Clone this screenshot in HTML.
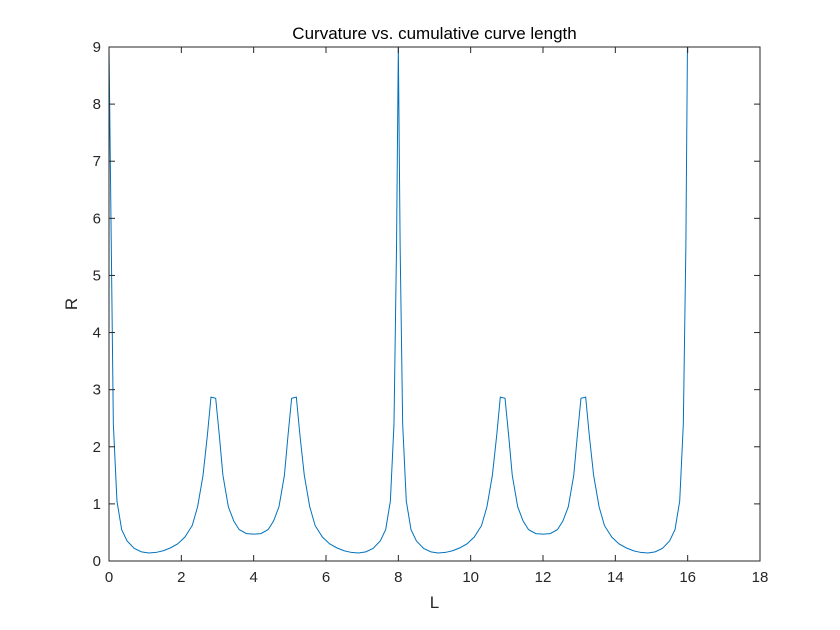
<!DOCTYPE html>
<html><head><meta charset="utf-8"><style>
body{margin:0;background:#fff;}
svg{display:block;font-family:"Liberation Sans",Arial,sans-serif;}
</style></head><body>
<svg id="chart" width="840" height="630">
<rect x="0" y="0" width="840" height="630" fill="#fff"/>
</svg>
<script>
const xTicks=[0,2,4,6,8,10,12,14,16,18];
const yTicks=[0,1,2,3,4,5,6,7,8,9];
const Lvals=[0,0.12,0.22,0.35,0.5,0.7,0.9,1.1,1.3,1.5,1.7,1.9,2.1,2.3,2.45,2.6,2.72,2.82,2.95,3.05,3.15,3.3,3.45,3.6,3.8,4.0,
4.2,4.4,4.55,4.7,4.85,4.95,5.05,5.18,5.28,5.4,5.55,5.7,5.9,6.1,6.3,6.5,6.7,6.9,7.1,7.3,7.5,7.65,7.78,7.88,7.95,8.0,
8.05,8.12,8.22,8.35,8.5,8.7,8.9,9.1,9.3,9.5,9.7,9.9,10.1,10.3,10.45,10.6,10.72,10.82,10.95,11.05,11.15,11.3,11.45,11.6,11.8,12.0,
12.2,12.4,12.55,12.7,12.85,12.95,13.05,13.18,13.28,13.4,13.55,13.7,13.9,14.1,14.3,14.5,14.7,14.9,15.1,15.3,15.5,15.65,15.78,15.88,15.95,16.0];
const Rvals=[9,2.4,1.05,0.55,0.35,0.22,0.16,0.14,0.15,0.18,0.23,0.3,0.42,0.62,0.95,1.5,2.2,2.87,2.85,2.2,1.5,0.95,0.7,0.55,0.48,0.47,
0.48,0.55,0.7,0.95,1.5,2.2,2.85,2.87,2.2,1.5,0.95,0.62,0.42,0.3,0.23,0.18,0.15,0.14,0.16,0.22,0.35,0.55,1.05,2.4,5.5,9,
5.5,2.4,1.05,0.55,0.35,0.22,0.16,0.14,0.15,0.18,0.23,0.3,0.42,0.62,0.95,1.5,2.2,2.87,2.85,2.2,1.5,0.95,0.7,0.55,0.48,0.47,
0.48,0.55,0.7,0.95,1.5,2.2,2.85,2.87,2.2,1.5,0.95,0.62,0.42,0.3,0.23,0.18,0.15,0.14,0.16,0.22,0.35,0.55,1.05,2.4,5.5,9.5];
const NS='http://www.w3.org/2000/svg';
const svg=document.getElementById('chart');
const X0=109,X1=760,Y0=561,Y1=47;
const sx=v=>X0+(v-0)/(18-0)*(X1-X0);
const sy=v=>Y0-(v-0)/(9-0)*(Y0-Y1);
function mk(t,a){const e=document.createElementNS(NS,t);for(const k in a)e.setAttribute(k,a[k]);svg.appendChild(e);return e;}
const defs=mk('defs',{});
const cp=document.createElementNS(NS,'clipPath');cp.setAttribute('id','clip');
const cr=document.createElementNS(NS,'rect');cr.setAttribute('x',X0);cr.setAttribute('y',Y1);cr.setAttribute('width',X1-X0);cr.setAttribute('height',Y0-Y1);
cp.appendChild(cr);defs.appendChild(cp);
let d='';Lvals.forEach((l,i)=>{d+=(i?'L':'M')+sx(l).toFixed(2)+','+sy(Rvals[i]).toFixed(2);});
const line=mk('path',{d:d,fill:'none',stroke:'#0072bd','stroke-width':1,'clip-path':'url(#clip)'});


const box=mk('rect',{x:X0,y:Y1,width:X1-X0,height:Y0-Y1,fill:'none',stroke:'#262626','stroke-width':1});


xTicks.forEach(t=>{const x=sx(t);
mk('line',{x1:x,x2:x,y1:Y0,y2:Y0-6,stroke:'#262626'});
mk('line',{x1:x,x2:x,y1:Y1,y2:Y1+6,stroke:'#262626'});
const tx=mk('text',{x:x,y:Y0+21,'text-anchor':'middle','font-size':15,fill:'#262626'});tx.textContent=t;

});
yTicks.forEach(t=>{const y=sy(t);
mk('line',{x1:X0,x2:X0+6,y1:y,y2:y,stroke:'#262626'});
mk('line',{x1:X1,x2:X1-6,y1:y,y2:y,stroke:'#262626'});
const tx=mk('text',{x:X0-8,y:y+5,'text-anchor':'end','font-size':15,fill:'#262626'});tx.textContent=t;

});
const ttl=mk('text',{x:(X0+X1)/2,y:39,'text-anchor':'middle','font-size':17,fill:'#000'});ttl.textContent='Curvature vs. cumulative curve length';


const xl=mk('text',{x:(X0+X1)/2,y:608,'text-anchor':'middle','font-size':17,fill:'#262626'});xl.textContent='L';


const yl=mk('text',{x:77,y:304,'text-anchor':'middle','font-size':17,fill:'#262626',transform:'rotate(-90 77 304)'});yl.textContent='R';


</script>
</body></html>
